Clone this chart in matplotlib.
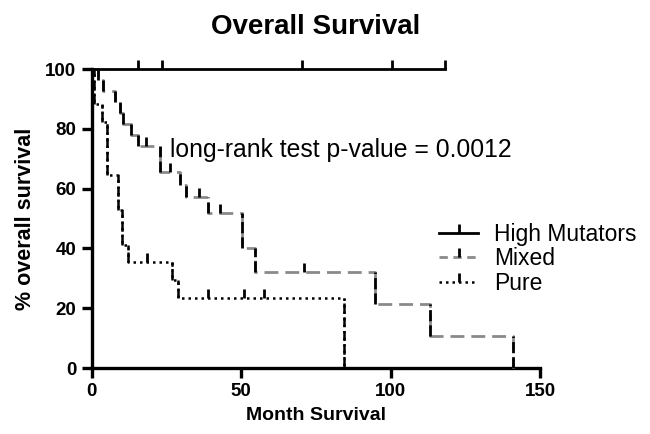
import matplotlib
matplotlib.use("Agg")
import matplotlib.pyplot as plt
from matplotlib.lines import Line2D
from matplotlib.path import Path
import numpy as np

plt.rcParams['font.family'] = ['Liberation Sans', 'DejaVu Sans']

# ---- data ----
groups = ["High Mutators", "Mixed", "Pure"]

hm_end = 118.3
hm_censor = [15.6, 23.4, 70.3, 100.5, 118.3]

mixed_times = [2.0, 3.9, 7.7, 9.4, 10.5, 13.1, 15.5, 22.9, 29.6, 31.7, 38.8, 50.2, 54.7, 94.8, 113.2, 140.9]
mixed_surv = [96.3, 92.6, 88.9, 85.2, 81.5, 77.8, 74.1, 65.6, 61.2, 57.3, 51.8, 40.1, 32.2, 21.4, 10.7, 0.0]
mixed_censor = [18.3, 26.2, 36.0, 43.0, 70.9]

pure_times = [0.8, 3.4, 5.3, 8.8, 10.2, 12.3, 26.8, 29.0, 84.3]
pure_surv = [88.2, 82.4, 64.7, 52.9, 41.2, 35.3, 29.4, 23.5, 0.0]
pure_censor = [18.4, 39.0, 50.8, 57.7]

x_ticks = [0, 50, 100, 150]
y_ticks = [0, 20, 40, 60, 80, 100]
annotation = "long-rank test p-value = 0.0012"


def surv_at(times, surv, t):
    s = 100.0
    for ti, si in zip(times, surv):
        if ti <= t:
            s = si
    return s


tick_marker = Path([(0, 0), (0, 1)], [Path.MOVETO, Path.LINETO])
MS = 12.5

fig = plt.figure(figsize=(6.5, 4.34), dpi=100)
ax = fig.add_axes([0.141, 0.152, 0.690, 0.689])

GRAY = "#8a8a8a"

# High mutators: solid, no events
ax.plot([0, hm_end], [100, 100], color="black", lw=2.0, clip_on=False, zorder=4)
ax.plot(hm_censor, [100] * len(hm_censor), ls="none", marker=tick_marker,
        ms=MS, mew=2.0, mec="black", clip_on=False, zorder=4)

# Mixed: gray dashed
mx = [0] + mixed_times
my = [100] + mixed_surv
ax.step(mx, my, where="post", color=GRAY, lw=2.0, ls=(0, (5, 2.5)), clip_on=False, zorder=3)
prev = [100] + mixed_surv[:-1]
ax.vlines(mixed_times, mixed_surv, prev, color="black", lw=2.0, ls=(0, (4, 1.5)), zorder=3)
ax.plot(mixed_censor, [surv_at(mixed_times, mixed_surv, c) for c in mixed_censor],
        ls="none", marker=tick_marker, ms=MS, mew=2.0, mec="black", zorder=4)

# Pure: dotted
px = [0] + pure_times
py = [100] + pure_surv
ax.step(px, py, where="post", color="black", lw=1.8, ls=(0, (1, 1.6)), clip_on=False, zorder=3)
prevp = [100] + pure_surv[:-1]
ax.vlines(pure_times, pure_surv, prevp, color="black", lw=1.8, ls=(0, (4, 1.5)), zorder=3)
ax.plot(pure_censor, [surv_at(pure_times, pure_surv, c) for c in pure_censor],
        ls="none", marker=tick_marker, ms=MS, mew=2.0, mec="black", zorder=4)

ax.set_xlim(0, 150)
ax.set_ylim(0, 100)
ax.set_xticks(x_ticks)
ax.set_yticks(y_ticks)
for s in ["top", "right"]:
    ax.spines[s].set_visible(False)
for s in ["left", "bottom"]:
    ax.spines[s].set_linewidth(2.4)
ax.tick_params(direction="out", length=7, width=2.4, labelsize=13.5, pad=4)
for lab in ax.get_xticklabels() + ax.get_yticklabels():
    lab.set_fontweight("bold")

ax.set_xlabel("Month Survival", fontsize=14, fontweight="bold", labelpad=5)
ax.set_ylabel("% overall survival", fontsize=15.5, fontweight="bold", labelpad=7)
fig.text(0.485, 0.937, "Overall Survival", fontsize=20, fontweight="bold", ha="center", va="center")

ax.text(26.2, 73, annotation, fontsize=17.8, ha="left", va="center")

handles = [
    Line2D([0], [0], color="black", lw=2.0, marker=tick_marker, ms=MS, mew=2.0, mec="black",
           markevery=[1]),
    Line2D([0], [0], color=GRAY, lw=2.0, ls=(0, (3, 2)), marker=tick_marker, ms=MS, mew=2.0, mec="black",
           markevery=[1]),
    Line2D([0], [0], color="black", lw=1.8, ls=(0, (1, 1.6)), marker=tick_marker, ms=MS, mew=2.0, mec="black",
           markevery=[1]),
]
for h in handles:
    h.set_data([0, 0.5, 1], [0, 0, 0])

leg = ax.legend(handles, groups, loc="center left", bbox_to_anchor=(0.775, 0.365),
                frameon=False, fontsize=16.5, handlelength=1.7, handletextpad=0.7,
                labelspacing=0.05, borderaxespad=0, borderpad=0)

fig.savefig("out.png", dpi=100)
